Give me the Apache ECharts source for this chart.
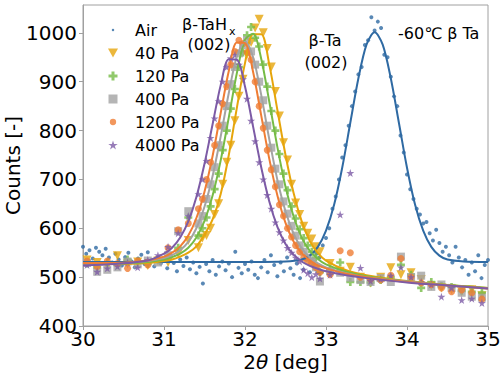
<!DOCTYPE html>
<html>
<head>
<meta charset="utf-8">
<script src="https://cdn.jsdelivr.net/npm/echarts@6/dist/echarts.min.js"></script>
<style>
  html, body { margin: 0; padding: 0; background: #fff; }
  #chart { width: 500px; height: 376px; }
</style>
</head>
<body>
<div id="chart"></div>
<script>
const X_TICKS = [30, 31, 32, 33, 34, 35];
const Y_TICKS = [400, 500, 600, 700, 800, 900, 1000];

// Air sample, scanned 30..35 deg in 0.04 deg steps
const AIR_START = 30;
const AIR_STEP = 0.04;
const AIR_COUNTS = [
  562, 548, 555, 538, 560, 552, 545, 558, 540, 530,
  548, 536, 524, 541, 550, 532, 520, 538, 546, 527,
  551, 534, 522, 540, 528, 535, 518, 544, 529, 512,
  536, 523, 540, 516, 530, 508, 521, 487, 527, 512,
  535, 505, 522, 532, 514, 528, 500, 552, 519, 508,
  527, 515, 532, 505, 498, 520, 535, 510, 545, 525,
  502, 530, 512, 540, 518, 505, 528, 498, 515, 536,
  510, 525, 548, 540, 565, 580, 600, 640, 665, 700,
  745, 770, 810, 850, 880, 915, 930, 975, 985, 1032,
  1005, 1023, 1010, 955, 950, 910, 870, 850, 790, 755,
  710, 680, 660, 640, 628, 610, 613, 590, 575, 597,
  570, 552, 562, 545, 530, 562, 540, 520, 535, 505,
  530, 512, 545, 498, 525, 535
];
const AIR_FIT_X = [30, 31, 32, 32.5, 32.7, 32.8, 32.9, 33, 33.1, 33.2, 33.3, 33.4, 33.5,
  33.6, 33.7, 33.8, 33.9, 34, 34.1, 34.2, 34.3, 34.4, 34.5, 34.7, 35];
const AIR_FIT = [531, 531, 531, 532, 536, 544, 562, 595, 648, 724, 816, 907, 976,
  1001, 976, 907, 816, 724, 648, 595, 562, 544, 536, 532, 531];

// hydrogenated samples share one scan grid (coarse tails, fine around the peak)
const TAH_X = [
  30.05, 30.175, 30.3, 30.425, 30.55, 30.675, 30.8, 30.925, 31.05, 31.175, 31.3, 31.425,
  31.475, 31.525, 31.575, 31.625, 31.675, 31.725, 31.775, 31.825, 31.875, 31.925,
  31.975, 32.025, 32.075, 32.125, 32.175, 32.225, 32.275, 32.325, 32.375, 32.425,
  32.475, 32.525, 32.575, 32.625, 32.675, 32.725, 32.775, 32.825, 32.875,
  32.925, 33.05, 33.175, 33.3, 33.425, 33.55, 33.675, 33.8, 33.925, 34.05, 34.175,
  34.3, 34.425, 34.55, 34.675, 34.8, 34.925
];
const PA40 = [
  535, 530, 522, 544, 527, 531, 524, 533, 530, 548, 575, 560,
  580, 585, 600, 628, 650, 690, 735, 770, 820, 870, 905, 955, 980, 1010, 1028, 1000, 968, 930,
  880, 830, 775, 740, 690, 652, 628, 604, 590, 578, 562,
  552, 528, 512, 520, 500, 488, 500, 519, 505, 509, 495, 482, 478, 474, 470, 474, 462
];
const PA120 = [
  528, 520, 530, 525, 536, 530, 527, 535, 540, 560, 622, 585,
  600, 622, 645, 680, 712, 760, 800, 845, 885, 930, 960, 995, 1012, 990, 972, 935, 890, 840,
  800, 752, 712, 678, 645, 620, 598, 580, 565, 552, 540,
  510, 515, 530, 490, 490, 489, 494, 500, 525, 505, 478, 490, 482, 480, 472, 470, 468
];
const PA400 = [
  529, 511, 515, 520, 532, 526, 534, 530, 545, 594, 635, 610,
  625, 660, 690, 725, 770, 810, 850, 895, 930, 958, 975, 985, 962, 935, 900, 862, 810, 765,
  722, 690, 655, 630, 605, 585, 565, 552, 540, 532, 520,
  491, 512, 509, 499, 494, 490, 498, 490, 542, 500, 503, 480, 485, 478, 468, 460, 458
];
const PA1200 = [
  533, 522, 533, 528, 518, 533, 525, 537, 560, 597, 610, 640,
  660, 700, 735, 770, 810, 855, 890, 935, 962, 985, 978, 960, 945, 900, 850, 805, 760, 720,
  685, 648, 625, 600, 582, 565, 552, 540, 532, 528, 520,
  510, 505, 554, 550, 500, 496, 494, 504, 538, 500, 488, 485, 478, 470, 474, 468, 455
];
const PA4000 = [
  525, 511, 518, 522, 530, 520, 535, 545, 562, 590, 625, 670,
  700, 738, 785, 825, 860, 900, 930, 948, 955, 935, 905, 865, 820, 778, 735, 700, 668, 640,
  612, 592, 575, 560, 550, 540, 532, 515, 508, 500, 506,
  497, 505, 628, 713, 519, 492, 496, 503, 520, 500, 490, 485, 460, 478, 453, 456, 447
];

// fitted profiles
const FIT_X = [30, 30.4, 30.8, 31, 31.1, 31.2, 31.3, 31.4, 31.5, 31.6, 31.7, 31.8, 31.9, 32,
  32.1, 32.2, 32.3, 32.4, 32.5, 32.6, 32.7, 32.8, 32.9, 33, 33.25, 33.5, 34, 34.5, 35];
const FIT_40 = [528, 527, 529, 533, 536, 542, 550, 563, 587, 618, 670, 750, 847, 938,
  997, 997, 935, 842, 750, 672, 614, 574, 549, 534, 514, 504, 492, 484, 478];
const FIT_120 = [528, 528, 531, 536, 541, 548, 560, 581, 615, 667, 739, 827, 918, 986,
  998, 947, 859, 766, 685, 624, 581, 554, 537, 526, 511, 502, 491, 484, 478];
const FIT_400 = [528, 528, 533, 539, 545, 555, 572, 600, 644, 707, 788, 877, 952, 982,
  950, 873, 782, 699, 635, 589, 559, 540, 528, 520, 508, 500, 491, 483, 477];
const FIT_1200 = [529, 529, 534, 542, 550, 563, 585, 621, 675, 748, 836, 922, 980, 979,
  920, 831, 742, 667, 611, 573, 549, 534, 524, 518, 507, 500, 490, 483, 477];
const FIT_4000 = [524, 527, 534, 548, 560, 581, 614, 664, 732, 813, 893, 946, 945, 890,
  808, 725, 655, 603, 568, 546, 532, 523, 517, 512, 504, 498, 489, 483, 477];

const FONT = 'DejaVu Sans';
const C_AIR = '#2f6aa3', C_40 = '#e6a50b', C_120 = '#76bb46',
      C_400 = '#a3a3a3', C_1200 = '#ef7d34', C_4000 = '#7d5ba6';
const TRI_DOWN = 'path://M0,0H10L5,9Z';
const PLUS = 'path://M3,0H6V3H9V6H6V9H3V6H0V3H3Z';
const STAR = 'path://M50,0L61.2,34.5H97.6L68.2,55.9L79.4,90.5L50,69.1L20.6,90.5L31.8,55.9L2.4,34.5H38.8Z';
const SMALL_DOT = 'path://M0,0M10,10M3.6,5A1.4,1.4,0,1,0,6.4,5A1.4,1.4,0,1,0,3.6,5Z';

const pairs = (xs, ys) => ys.map((y, i) => [xs[i], y]);
const AIR_X = AIR_COUNTS.map((_, i) => +(AIR_START + i * AIR_STEP).toFixed(2));

const scatter = (name, xs, ys, color, symbol, size) => ({
  name, type: 'scatter', data: pairs(xs, ys), symbol, symbolSize: size,
  itemStyle: { color }, z: 2
});
const fit = (xs, ys, color) => ({
  type: 'line', data: pairs(xs, ys), showSymbol: false, smooth: 0.3,
  lineStyle: { color, width: 2 }, itemStyle: { color }, z: 3, silent: true
});

const chart = echarts.init(document.getElementById('chart'), null, { renderer: 'svg' });
chart.setOption({
  animation: false,
  textStyle: { fontFamily: FONT },
  grid: { left: 83, right: 12, top: 5, bottom: 50, show: true, borderColor: '#a0a0a0',
          borderWidth: 1, outerBoundsMode: 'none' },
  xAxis: {
    type: 'value', min: 30, max: 35,
    name: '2{i|θ} [deg]', nameLocation: 'middle', nameGap: 26, nameMoveOverlap: false,
    nameTextStyle: { fontSize: 20, color: '#000', fontFamily: FONT,
                     rich: { i: { fontSize: 20, fontStyle: 'italic', fontFamily: FONT } } },
    axisLine: { lineStyle: { color: '#a0a0a0' } },
    axisTick: { customValues: X_TICKS, length: 4, lineStyle: { color: '#a0a0a0' } },
    axisLabel: { customValues: X_TICKS, fontSize: 20, color: '#000', margin: 3,
                 formatter: v => String(v) },
    splitLine: { show: false }
  },
  yAxis: {
    type: 'value', min: 400, max: 1057,
    name: 'Counts [-]', nameLocation: 'middle', nameGap: 60, nameMoveOverlap: false,
    nameTextStyle: { fontSize: 20, color: '#000' },
    axisLine: { show: true, lineStyle: { color: '#a0a0a0' } },
    axisTick: { show: true, customValues: Y_TICKS, length: 4, lineStyle: { color: '#a0a0a0' } },
    axisLabel: { customValues: Y_TICKS, fontSize: 20, color: '#000', margin: 6,
                 formatter: v => String(v) },
    splitLine: { show: false }
  },
  legend: {
    orient: 'vertical', left: 108, top: 20, padding: 0, itemGap: 3,
    itemWidth: 10, itemHeight: 9,
    textStyle: { fontSize: 16, color: '#000', lineHeight: 20, padding: [0, 0, 0, 12] },
    data: [
      { name: 'Air', icon: SMALL_DOT },
      { name: '40 Pa', icon: TRI_DOWN },
      { name: '120 Pa', icon: PLUS },
      { name: '400 Pa', icon: 'path://M1,1H9V9H1Z' },
      { name: '1200 Pa', icon: 'path://M0,0M10,10M1.5,5A3.5,3.5,0,1,0,8.5,5A3.5,3.5,0,1,0,1.5,5Z' },
      { name: '4000 Pa', icon: STAR }
    ]
  },
  graphic: [
    { type: 'text', x: 182, y: 24, style: { text: 'β-TaH', font: '16px ' + FONT, fill: '#000', verticalAlign: 'middle' } },
    { type: 'text', x: 229, y: 31, style: { text: 'x', font: '11px ' + FONT, fill: '#000', verticalAlign: 'middle' } },
    { type: 'text', x: 209, y: 44, style: { text: '(002)', font: '16px ' + FONT, fill: '#000', align: 'center', verticalAlign: 'middle' } },
    { type: 'text', x: 325, y: 40, style: { text: 'β-Ta', font: '16px ' + FONT, fill: '#000', align: 'center', verticalAlign: 'middle' } },
    { type: 'text', x: 326, y: 62, style: { text: '(002)', font: '16px ' + FONT, fill: '#000', align: 'center', verticalAlign: 'middle' } },
    { type: 'text', x: 398, y: 33, style: { text: '-60℃ β Ta', font: '16px ' + FONT, fill: '#000', verticalAlign: 'middle' } }
  ],
  series: [
    scatter('Air', AIR_X, AIR_COUNTS, C_AIR, 'circle', 4),
    scatter('40 Pa', TAH_X, PA40, C_40, TRI_DOWN, 9),
    scatter('120 Pa', TAH_X, PA120, C_120, PLUS, 8),
    scatter('400 Pa', TAH_X, PA400, C_400, 'rect', 8),
    scatter('1200 Pa', TAH_X, PA1200, C_1200, 'circle', 7),
    scatter('4000 Pa', TAH_X, PA4000, C_4000, STAR, 8),
    fit(AIR_FIT_X, AIR_FIT, C_AIR),
    fit(FIT_X, FIT_40, C_40),
    fit(FIT_X, FIT_120, C_120),
    fit(FIT_X, FIT_400, C_400),
    fit(FIT_X, FIT_1200, C_1200),
    fit(FIT_X, FIT_4000, C_4000)
  ]
});
</script>
</body>
</html>
